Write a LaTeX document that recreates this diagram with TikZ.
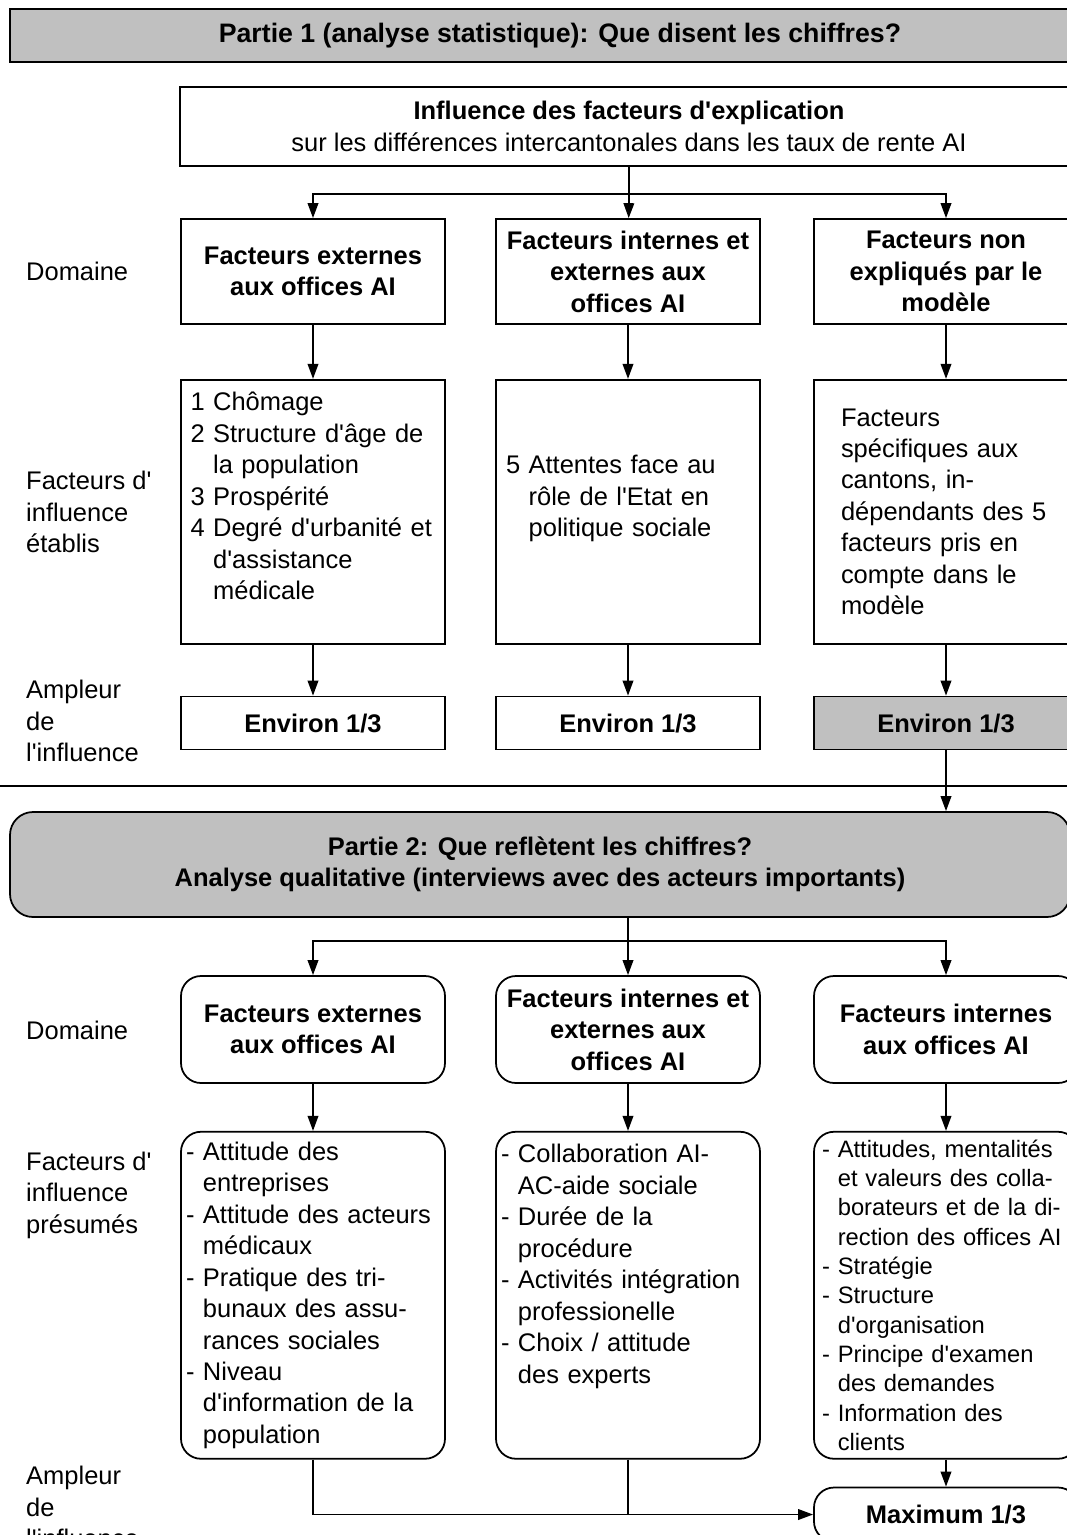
\documentclass[tikz,border=0pt]{standalone}
\usepackage{fontspec}
\setmainfont{Liberation Sans}
\usetikzlibrary{arrows.meta, positioning}
\definecolor{boxgray}{RGB}{192,192,192}
\newcommand{\ap}{\textquotesingle}
\newcommand{\ind}{\hphantom{- }}

\begin{document}
\begin{tikzpicture}[
    font=\fontsize{14.5}{17.9}\selectfont,
    node distance=1.08cm,
    line/.style={line width=1pt},
    arr/.style={line width=1pt, -{Triangle[length=8.5pt, width=6pt]}},
    head/.style={rectangle, draw, line width=1.6pt, fill=boxgray,
                 align=center, font=\fontsize{14.5}{17.9}\selectfont\bfseries},
    box/.style={rectangle, draw, line width=1pt, minimum width=5.28cm,
                inner sep=0pt, align=center},
    dom/.style={box, minimum height=2.1cm,
                font=\fontsize{14.5}{17.9}\selectfont\bfseries},
    fac/.style={box, minimum height=5.28cm, align=left},
    amp/.style={box, minimum height=1.06cm,
                font=\fontsize{14.5}{17.9}\selectfont\bfseries},
    round/.style={rounded corners=0.4cm},
    lab/.style={anchor=west, align=left},
  ]
    \useasboundingbox (0,0) rectangle (21.34,-30.70);

    % Partie 1
    \node[head, font=\fontsize{15.2}{18}\selectfont\bfseries] (part1) at (11.2,-0.71)
      [minimum width=22cm, minimum height=1.06cm]
      {Partie 1 (analyse statistique): Que disent les chiffres?};
    \node[box, minimum width=17.96cm, minimum height=1.58cm] (infl) at (12.58,-2.53)
      {\textbf{Influence des facteurs d\ap{}explication}\\
       sur les différences intercantonales dans les taux de rente AI};
    \coordinate[below=0.54cm of infl] (fork1);

    \node[dom] (dom11) at (6.26,-5.43) {Facteurs externes\\aux offices AI};
    \node[dom] (dom12) at (12.56,-5.43) {Facteurs internes et\\externes aux\\offices AI};
    \node[dom] (dom13) at (18.92,-5.43) {Facteurs non\\expliqués par le\\modèle};

    \node[fac, text width=4.9cm, below=of dom11] (fac11)
      {1 Chômage\\2 Structure d\ap{}âge de\\\hphantom{2 }la population\\
       3 Prospérité\\4 Degré d\ap{}urbanité et\\\hphantom{4 }d\ap{}assistance\\
       \hphantom{4 }médicale\\\mbox{}};
    \node[fac, text width=4.88cm, below=of dom12] (fac12)
      {5 Attentes face au\\\hphantom{5 }rôle de l\ap{}Etat en\\
       \hphantom{5 }politique sociale\\\mbox{}};
    \node[fac, text width=4.2cm, below=of dom13] (fac13)
      {Facteurs\\spécifiques aux\\cantons, in-\\dépendants des 5\\
       facteurs pris en\\compte dans le\\modèle};

    \node[amp, below=1.02cm of fac11] (env1) {Environ 1/3};
    \node[amp, below=1.02cm of fac12] (env2) {Environ 1/3};
    \node[amp, fill=boxgray, below=1.02cm of fac13] (env3) {Environ 1/3};

    \node[lab] (lbdom1) at (0.4,-5.43) {Domaine};
    \node[lab] (lbfac1) at (0.4,-10.24) {Facteurs d\ap\\influence\\établis};
    \node[lab] (lbamp1) at (0.4,-14.42) {Ampleur\\de\\l\ap{}influence};

    \draw[line] (infl) -- (fork1);
    \draw[arr] (fork1) -| (dom11);
    \draw[arr] (fork1) -- (dom12);
    \draw[arr] (fork1) -| (dom13);
    \draw[arr] (dom11) -- (fac11);
    \draw[arr] (dom12) -- (fac12);
    \draw[arr] (dom13) -- (fac13);
    \draw[arr] (fac11) -- (env1);
    \draw[arr] (fac12) -- (env2);
    \draw[arr] (fac13) -- (env3);

    \draw[line] (0,-15.72) -- (21.34,-15.72);

    % Partie 2
    \node[head, round, line width=1pt, rounded corners=0.46cm,
          minimum width=21.2cm, minimum height=2.1cm] (part2) at (10.8,-17.29)
      {Partie 2: Que reflètent les chiffres?\\
       Analyse qualitative (interviews avec des acteurs importants)};
    \draw[arr] (env3) -- (env3 |- part2.north);

    \node[dom, round, minimum height=2.14cm] (dom21) at (6.26,-20.59)
      {Facteurs externes\\aux offices AI};
    \node[dom, round, minimum height=2.14cm] (dom22) at (12.56,-20.59)
      {Facteurs internes et\\externes aux\\offices AI};
    \node[dom, round, minimum height=2.14cm] (dom23) at (18.92,-20.59)
      {Facteurs internes\\aux offices AI};
    \coordinate (fork2) at (dom22 |- 0,-18.82);

    \node[fac, round, minimum height=6.54cm, text width=5.08cm,
          below=0.94cm of dom21] (fac21)
      {- Attitude des\\\ind entreprises\\- Attitude des acteurs\\\ind médicaux\\
       - Pratique des tri-\\\ind bunaux des assu-\\\ind rances sociales\\
       - Niveau\\\ind d\ap{}information de la\\\ind population};
    \node[fac, round, minimum height=6.54cm, text width=5.08cm,
          below=0.94cm of dom22] (fac22)
      {- Collaboration AI-\\\ind AC-aide sociale\\- Durée de la\\\ind procédure\\
       - Activités intégration\\\ind professionelle\\- Choix / attitude\\
       \ind des experts\\\mbox{}\\\mbox{}};
    \node[fac, round, minimum height=6.54cm, text width=4.96cm,
          font=\fontsize{13.5}{16.7}\selectfont, below=0.94cm of dom23] (fac23)
      {- Attitudes, mentalités\\\ind et valeurs des colla-\\
       \ind borateurs et de la di-\\\ind rection des offices AI\\- Stratégie\\
       - Structure\\\ind d\ap{}organisation\\- Principe d\ap{}examen\\
       \ind des demandes\\- Information des\\\ind clients};

    \node[amp, round, minimum height=1.08cm, below=0.54cm of fac23] (max)
      {Maximum 1/3};

    \node[lab] (lbdom2) at (0.4,-20.6) {Domaine};
    \node[lab] (lbfac2) at (0.4,-23.9) {Facteurs d\ap\\influence\\présumés};
    \node[lab] (lbamp2) at (0.4,-30.14) {Ampleur\\de\\l\ap{}influence};

    \draw[line] (dom22 |- part2.south) -- (fork2);
    \draw[arr] (fork2) -| (dom21);
    \draw[arr] (fork2) -- (dom22);
    \draw[arr] (fork2) -| (dom23);
    \draw[arr] (dom21) -- (fac21);
    \draw[arr] (dom22) -- (fac22);
    \draw[arr] (dom23) -- (fac23);
    \draw[arr] (fac23) -- (max);
    \draw[arr] (fac21) |- (max);
    \draw[line] (fac22) -- (fac22 |- max);
  \end{tikzpicture}
\end{document}
